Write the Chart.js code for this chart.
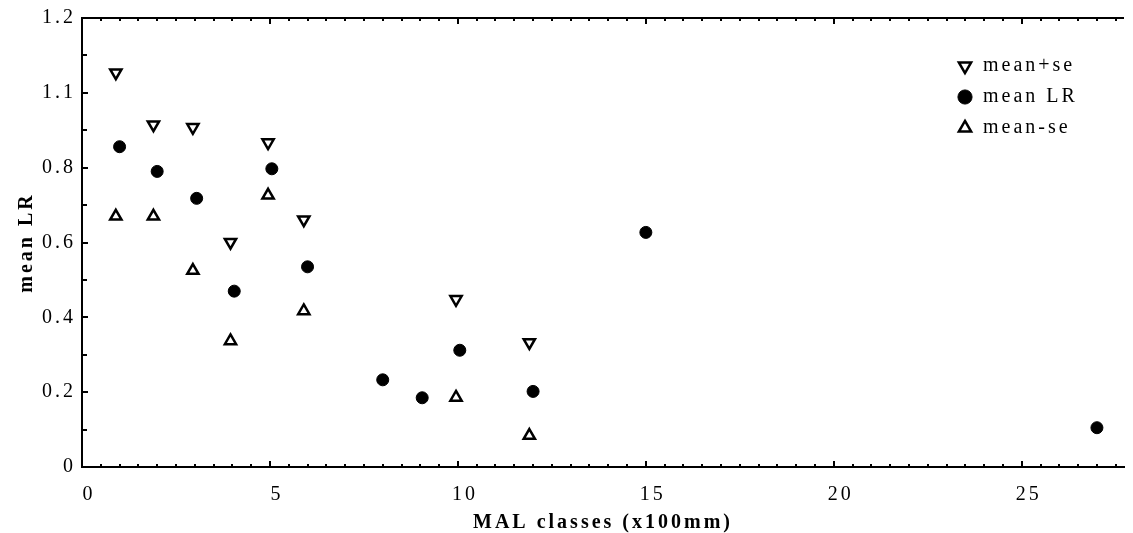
<!DOCTYPE html>
<html>
<head>
<meta charset="utf-8">
<script src="https://cdn.jsdelivr.net/npm/chart.js@4.4.1/dist/chart.umd.min.js"></script>
<style>
  html, body { margin: 0; background: #fff; }
  canvas { display: block; }
</style>
</head>
<body>
<canvas id="lrChart" width="1133" height="533"></canvas>
<script>
// values
const upperClasses = [0.9, 1.9, 2.95, 3.95, 4.95, 5.9, 9.95, 11.9];
const meanPlusSe = [1.054, 0.915, 0.908, 0.601, 0.867, 0.661, 0.448, 0.333];

const meanClasses = [1.0, 2.0, 3.05, 4.05, 5.05, 6.0, 8.0, 9.05, 10.05, 12.0, 15.0, 27.0];
const meanLR = [0.856, 0.790, 0.718, 0.470, 0.797, 0.535, 0.233, 0.185, 0.312, 0.202, 0.627, 0.105];

const lowerClasses = [0.9, 1.9, 2.95, 3.95, 4.95, 5.9, 9.95, 11.9];
const meanMinusSe = [0.670, 0.670, 0.525, 0.337, 0.726, 0.417, 0.186, 0.084];

const xTickValues = [0, 5, 10, 15, 20, 25];
const yTickValues = [0, 0.2, 0.4, 0.6, 0.8, 1.0, 1.2];
const yTickLabels = ['0', '0.2', '0.4', '0.6', '0.8', '1.1', '1.2'];

const toPoints = (xs, ys) => xs.map((x, i) => ({ x: x, y: ys[i] }));

const serif = 'Liberation Serif, Times New Roman, serif';

// old plotting package spaced its letters out a bit
const letterSpacing = {
  id: 'letterSpacing',
  beforeUpdate(chart) { chart.ctx.letterSpacing = '3px'; },
  beforeDraw(chart) { chart.ctx.letterSpacing = '3px'; }
};

// inward tick marks + top frame line
const frameTicks = {
  id: 'frameTicks',
  beforeDatasetsDraw(chart) {
    const { ctx, chartArea: { left, right, top, bottom }, scales: { x, y } } = chart;
    ctx.save();
    ctx.strokeStyle = '#000';
    ctx.lineWidth = 2;
    ctx.beginPath();
    ctx.moveTo(left - 1, top);
    ctx.lineTo(right, top);
    for (let i = 0; i * 0.5 <= x.max; i++) {
      const px = Math.round(x.getPixelForValue(i * 0.5));
      const len = i % 10 === 0 ? 6 : 3;
      ctx.moveTo(px, bottom);
      ctx.lineTo(px, bottom - len);
      ctx.moveTo(px, top);
      ctx.lineTo(px, top + len);
    }
    for (let i = 0; i <= 12; i++) {
      const py = Math.round(y.getPixelForValue(i / 10));
      ctx.moveTo(left, py);
      ctx.lineTo(left + (i % 2 === 0 ? 6 : 5), py);
    }
    ctx.stroke();
    ctx.restore();
  }
};

// park the legend in the upper right of the plot
const legendSpot = {
  id: 'legendSpot',
  afterLayout(chart) {
    const lg = chart.legend;
    lg.left = 946;
    lg.top = 45;
    lg.right = lg.left + 180;
    lg.bottom = lg.top + 200;
  }
};

new Chart(document.getElementById('lrChart'), {
  type: 'scatter',
  data: {
    datasets: [
      {
        label: 'mean+se',
        data: toPoints(upperClasses, meanPlusSe),
        pointStyle: 'triangle',
        rotation: 180,
        pointRadius: 6.5,
        borderWidth: 2.5,
        borderColor: '#000',
        backgroundColor: '#fff'
      },
      {
        label: 'mean LR',
        data: toPoints(meanClasses, meanLR),
        pointStyle: 'circle',
        pointRadius: 6,
        borderWidth: 1,
        borderColor: '#000',
        backgroundColor: '#000'
      },
      {
        label: 'mean-se',
        data: toPoints(lowerClasses, meanMinusSe),
        pointStyle: 'triangle',
        pointRadius: 6.5,
        borderWidth: 2.5,
        borderColor: '#000',
        backgroundColor: '#fff'
      }
    ]
  },
  options: {
    responsive: false,
    animation: false,
    layout: { padding: { top: 16, right: 0, bottom: 0, left: 0 } },
    scales: {
      x: {
        type: 'linear',
        min: 0,
        max: 27.72,
        afterFit: (scale) => { scale.height = 66; },
        afterBuildTicks: (scale) => { scale.ticks = xTickValues.map(v => ({ value: v })); },
        grid: { display: false, drawTicks: false },
        border: { display: true, color: '#000', width: 2 },
        ticks: {
          color: '#000',
          padding: 16,
          labelOffset: 7,
          maxRotation: 0,
          autoSkip: false,
          font: { family: serif, size: 20 }
        },
        title: {
          display: true,
          text: 'MAL classes (x100mm)',
          color: '#000',
          padding: { top: 0, bottom: 0 },
          font: { family: serif, size: 20, weight: 'bold', lineHeight: 1 }
        }
      },
      y: {
        type: 'linear',
        min: 0,
        max: 1.2,
        afterFit: (scale) => { scale.width = 82; },
        afterBuildTicks: (scale) => { scale.ticks = yTickValues.map(v => ({ value: v })); },
        grid: { display: false, drawTicks: false },
        border: { display: true, color: '#000', width: 2 },
        ticks: {
          color: '#000',
          padding: 6,
          autoSkip: false,
          font: { family: serif, size: 20 },
          callback: (value, index) => yTickLabels[index]
        },
        title: {
          display: true,
          text: 'mean LR',
          color: '#000',
          padding: { top: 17, bottom: 0 },
          font: { family: serif, size: 20, weight: 'bold', lineHeight: 1 }
        }
      }
    },
    plugins: {
      legend: {
        display: true,
        position: 'chartArea',
        align: 'start',
        labels: {
          usePointStyle: true,
          boxWidth: 16,
          boxHeight: 10,
          padding: 11,
          color: '#000',
          font: { family: serif, size: 20 }
        }
      },
      tooltip: { enabled: false }
    }
  },
  plugins: [letterSpacing, frameTicks, legendSpot]
});
</script>
</body>
</html>
